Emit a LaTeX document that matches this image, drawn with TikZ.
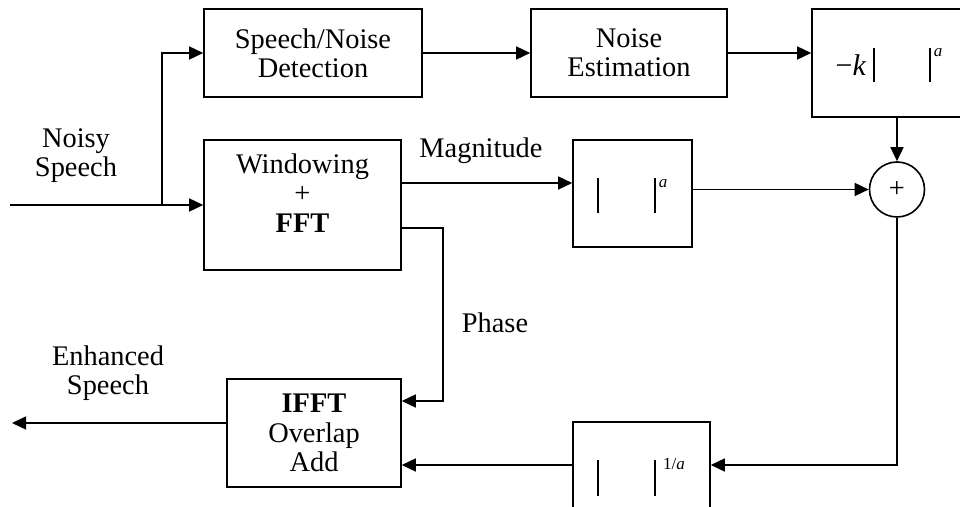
\documentclass[tikz,border=0pt]{standalone}
\usepackage{fontspec}
\setmainfont{Liberation Serif}
\usetikzlibrary{arrows.meta}
\begin{document}
\begin{tikzpicture}[x=0.5pt,y=-0.5pt,
  blk/.style={draw, line width=0.8pt, inner sep=0pt, align=center,
    font=\fontsize{14.2}{14.6}\selectfont},
  lbl/.style={inner sep=0pt, align=center, font=\fontsize{14.2}{14.6}\selectfont},
  wire/.style={line width=0.75pt},
  arr/.style={wire, -{Triangle[length=7pt,width=6.5pt]}},
  bar/.style={line width=0.8pt},
  sup/.style={inner sep=0pt, font=\fontsize{8.5}{9}\selectfont\itshape}]
\useasboundingbox (0,0) rectangle (960,507);
\clip (0,0) rectangle (960,507);

% blocks
\node[blk, minimum width=109pt, minimum height=44pt] (sn) at (313,53) {Speech/Noise\\Detection};
\node[blk, minimum width=98pt, minimum height=44pt] (ne) at (629,53) {Noise\\Estimation};
\node[blk, minimum width=89pt, minimum height=54pt] (kb) at (901,63) {};
\node[blk, minimum width=98.5pt, minimum height=65pt] (wf) at (302.5,205) {};
\node[lbl] (wft) at (302.5,193) {Windowing\\+\\\textbf{FFT}};
\node[blk, minimum width=59.5pt, minimum height=53.5pt] (ma) at (632.5,193.5) {};
\node[blk, circle, minimum size=27.5pt] (sum) at (897,189.5) {+};
\node[blk, minimum width=87pt, minimum height=54pt] (ifft) at (314,433) {\textbf{IFFT}\\Overlap\\Add};
\node[blk, minimum width=68.5pt, minimum height=54pt] (inv) at (641.5,476) {};

% contents of the power boxes
\node[lbl, font=\fontsize{15}{15.5}\selectfont] (mk) at (851,65) {−\textit{k}};
\draw[bar] (874,48) -- (874,82) (930,48) -- (930,82);
\node[sup] (ka) at (938,53) {a};
\draw[bar] (598,178) -- (598,213) (655,178) -- (655,213);
\node[sup] (maa) at (663,184) {a};
\draw[bar] (598,460) -- (598,496) (655,460) -- (655,496);
\node[sup, font=\fontsize{8.5}{9}\selectfont] (inva) at (674,464) {1/\textit{a}};

% labels
\node[lbl] (noisy) at (76,156) {Noisy\\Speech};
\node[lbl] (enh) at (108,373) {Enhanced\\Speech};
\node[lbl] (mag) at (481,151) {Magnitude};
\node[lbl] (ph) at (495,323) {Phase};

% coordinates
\coordinate (in) at (10,205);
\coordinate (br) at (162,205);
\coordinate (magy) at (0,183);
\coordinate (phy) at (0,228);
\coordinate (phx) at (443,0);
\coordinate (phin) at (0,401);
\coordinate (fby) at (0,465);
\coordinate (outy) at (0,423);
\coordinate (out) at (12,423);

% connectors
\draw[arr] (in) -- (wf.west);
\draw[arr] (br) |- (sn.west);
\draw[arr] (sn.east) -- (ne.west);
\draw[arr] (ne.east) -- (ne.east -| kb.west);
\draw[arr] (sum.north |- kb.south) -- (sum.north);
\draw[arr] (wf.east |- magy) -- (ma.west |- magy);
\draw[arr] (sum.west -| ma.east) -- (sum.west);
\draw[arr] (wf.east |- phy) -- (phx |- phy) -- (phx |- phin) -- (ifft.east |- phin);
\draw[arr] (sum.south) -- (sum.south |- fby) -- (inv.east |- fby);
\draw[arr] (inv.west |- fby) -- (ifft.east |- fby);
\draw[arr] (ifft.west |- outy) -- (out);
\end{tikzpicture}
\end{document}
